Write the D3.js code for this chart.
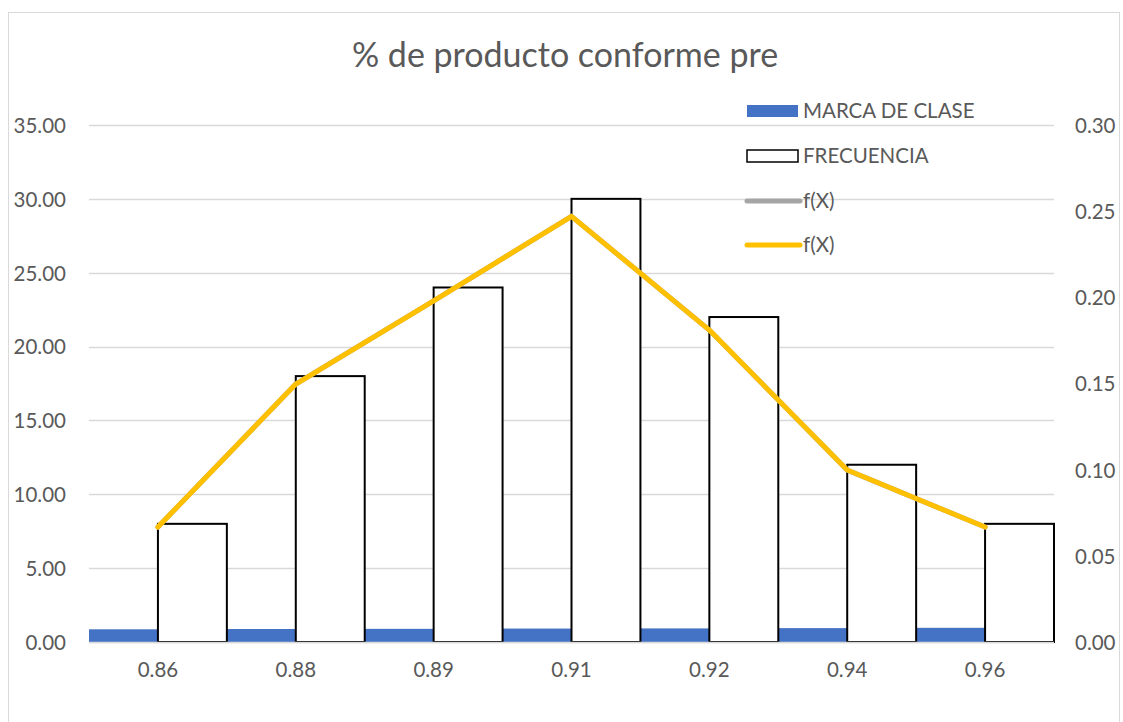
<!DOCTYPE html>
<html>
<head>
<meta charset="utf-8">
<script src="https://cdn.jsdelivr.net/npm/d3@7"></script>
<style>
  body { margin: 0; background: #fff; }
  text { font-family: Lato, "Open Sans", sans-serif; fill: #595959; }
</style>
</head>
<body>
<div id="chart"></div>
<script>
// data
const categories = ['0.86', '0.88', '0.89', '0.91', '0.92', '0.94', '0.96']
const marcaClase = [0.86, 0.88, 0.89, 0.91, 0.92, 0.94, 0.96]
const frecuencia = [8, 18, 24, 30, 22, 12, 8]
const fxGray = [0.0667, 0.1497, 0.198, 0.247, 0.181, 0.0998, 0.0667]
const fxYellow = [0.0667, 0.1497, 0.198, 0.247, 0.181, 0.0998, 0.0667]
const leftTicks = [0, 5, 10, 15, 20, 25, 30, 35]
const rightTicks = [0, 0.05, 0.10, 0.15, 0.20, 0.25, 0.30]

const W = 1123, H = 722
const plot = { left: 89, right: 1054, top: 125, bottom: 642 }

const svg = d3.select('#chart').append('svg')
    .attr('width', W)
    .attr('height', H)

// outer chart border
svg.append('rect')
    .attr('x', 8.5).attr('y', 12.5)
    .attr('width', 1111).attr('height', 730)
    .attr('fill', 'none')
    .attr('stroke', '#d9d9d9')
    .attr('stroke-width', 1)

svg.append('text')
    .attr('x', 565).attr('y', 67)
    .attr('text-anchor', 'middle')
    .style('font-size', '34px')
    .text('% de producto conforme pre')

const x = d3.scaleBand()
    .domain(categories)
    .range([plot.left, plot.right])
    .padding(0)

const y = d3.scaleLinear().domain([0, 35]).range([plot.bottom, plot.top])
const y2 = d3.scaleLinear().domain([0, 0.30]).range([plot.bottom, plot.top])

// gridlines
svg.append('g')
    .selectAll('line')
    .data(leftTicks)
    .enter().append('line')
    .attr('x1', plot.left).attr('x2', plot.right)
    .attr('y1', d => Math.round(y(d)) + 0.5)
    .attr('y2', d => Math.round(y(d)) + 0.5)
    .attr('stroke', '#d9d9d9')
    .attr('stroke-width', 1.5)

// left axis labels
const leftAxis = svg.append('g')
    .attr('transform', 'translate(' + (plot.left - 23) + ',0)')
    .call(d3.axisLeft(y).tickValues(leftTicks).tickFormat(d3.format('.2f')).tickSize(0).tickPadding(0))
leftAxis.select('.domain').remove()
leftAxis.selectAll('text').style('font-size', '20.5px').attr('dy', '0.36em')

// right axis labels
const rightAxis = svg.append('g')
    .attr('transform', 'translate(' + (plot.right + 21) + ',0)')
    .call(d3.axisRight(y2).tickValues(rightTicks).tickFormat(d3.format('.2f')).tickSize(0).tickPadding(0))
rightAxis.select('.domain').remove()
rightAxis.selectAll('text').style('font-size', '20.5px').attr('dy', '0.36em')

// x axis labels
const xAxis = svg.append('g')
    .attr('transform', 'translate(0,' + (plot.bottom + 20) + ')')
    .call(d3.axisBottom(x).tickSize(0).tickPadding(0))
xAxis.select('.domain').remove()
xAxis.selectAll('text').style('font-size', '20.5px').attr('dy', '0.71em')

const half = x.bandwidth() / 2

// MARCA DE CLASE bars
svg.append('g')
    .selectAll('rect')
    .data(marcaClase)
    .enter().append('rect')
    .attr('x', (d, i) => x(categories[i]))
    .attr('y', d => y(d))
    .attr('width', half)
    .attr('height', d => y(0) - y(d))
    .attr('fill', '#4472c4')

// FRECUENCIA bars
svg.append('g')
    .selectAll('rect')
    .data(frecuencia)
    .enter().append('rect')
    .attr('x', (d, i) => x(categories[i]) + half)
    .attr('y', d => y(d))
    .attr('width', half)
    .attr('height', d => y(0) - y(d))
    .attr('fill', '#fff')
    .attr('stroke', '#000')
    .attr('stroke-width', 2)

// axis baseline
svg.append('line')
    .attr('x1', plot.left).attr('x2', plot.right)
    .attr('y1', plot.bottom + 0.5).attr('y2', plot.bottom + 0.5)
    .attr('stroke', '#d9d9d9')
    .attr('stroke-width', 1.5)

const line = d3.line()
    .x((d, i) => x(categories[i]) + half)
    .y(d => y2(d))

svg.append('path')
    .datum(fxGray)
    .attr('d', line)
    .attr('fill', 'none')
    .attr('stroke', '#a5a5a5')
    .attr('stroke-width', 5)
    .attr('stroke-linecap', 'round')

svg.append('path')
    .datum(fxYellow)
    .attr('d', line)
    .attr('fill', 'none')
    .attr('stroke', '#ffc000')
    .attr('stroke-width', 5)
    .attr('stroke-linecap', 'round')
    .attr('stroke-linejoin', 'round')

// legend
const legend = svg.append('g').attr('transform', 'translate(746,0)')
const legendItems = [
    { label: 'MARCA DE CLASE', type: 'bar', fill: '#4472c4', stroke: 'none', y: 111 },
    { label: 'FRECUENCIA', type: 'bar', fill: '#fff', stroke: '#000', y: 156 },
    { label: 'f(X)', type: 'line', color: '#a5a5a5', y: 201 },
    { label: 'f(X)', type: 'line', color: '#ffc000', y: 245 }
]
legendItems.forEach(it => {
    if (it.type === 'bar') {
        legend.append('rect')
            .attr('x', 1).attr('y', it.y - 6)
            .attr('width', 51).attr('height', 12)
            .attr('fill', it.fill)
            .attr('stroke', it.stroke)
            .attr('stroke-width', 1.5)
    } else {
        legend.append('line')
            .attr('x1', 1).attr('x2', 54)
            .attr('y1', it.y).attr('y2', it.y)
            .attr('stroke', it.color)
            .attr('stroke-width', 5)
            .attr('stroke-linecap', 'round')
    }
    legend.append('text')
        .attr('x', 57).attr('y', it.y)
        .attr('dy', '0.36em')
        .style('font-size', '20.5px')
        .text(it.label)
})
</script>
</body>
</html>
